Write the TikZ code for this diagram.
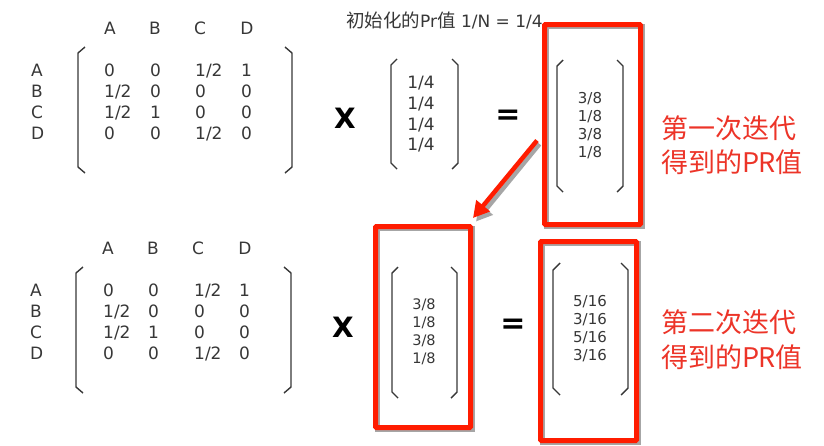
\documentclass[tikz,border=0pt]{standalone}
\usepackage{fontspec}
\setmainfont{DejaVu Sans}
\newfontfamily\cjk{Noto Sans CJK SC}
\usetikzlibrary{arrows.meta}
\definecolor{boxred}{RGB}{255,28,0}
\definecolor{txtred}{RGB}{236,52,40}
\definecolor{ink}{RGB}{55,55,55}
\begin{document}
\begin{tikzpicture}[x=1pt,y=-1pt,
  mtx/.style={anchor=base west,inner sep=0pt,text=ink,font=\fontsize{17}{20}\selectfont},
  hdr/.style={anchor=base,inner sep=0pt,text=ink,font=\fontsize{17}{20}\selectfont},
  vec/.style={anchor=base,inner sep=0pt,text=ink,font=\fontsize{#1}{18}\selectfont},
  vec/.default=15,
  brk/.style={draw=ink,line width=1.4pt},
  op/.style={inner sep=0pt,text=black,font=\fontsize{#1}{30}\selectfont\bfseries},
  redbox/.style={draw=boxred,line width=5pt,rounded corners=1pt,inner sep=0pt,rectangle},
  shbox/.style={draw=gray!70,line width=5pt,inner sep=0pt,rectangle},
  redtxt/.style={anchor=west,inner sep=0pt,text=txtred,font=\cjk\fontsize{27}{32}\selectfont}]
\useasboundingbox (0,0) rectangle (824,445);

% ---------- top left matrix ----------
\foreach \l/\x in {A/110,B/155,C/200,D/247}{
  \node[hdr] (th\l) at (\x,34) {\l};}
\foreach \l/\y in {A/76,B/97,C/118,D/139}{
  \node[mtx] (tr\l) at (31,\y) {\l};}
\foreach \r/\y/\a/\b/\c/\d in {1/76/0/0/1\slash 2/1,2/97/1\slash 2/0/0/0,3/118/1\slash 2/1/0/0,4/139/0/0/1\slash 2/0}{
  \node[mtx] (tm\r a) at (104,\y) {\a};
  \node[mtx] (tm\r b) at (150,\y) {\b};
  \node[mtx] (tm\r c) at (195,\y) {\c};
  \node[mtx] (tm\r d) at (241,\y) {\d};}
\draw[brk] (85,47) -- (78,53) -- (78,167) -- (85,173);
\draw[brk] (285,47) -- (292,53) -- (292,167) -- (285,173);

% ---------- top operators and vectors ----------
\node[op=28] (tx) at (345,118) {X};
\node[op=30] (teq) at (508,117) {=};
\node[anchor=west,inner sep=0pt,text=ink] (init) at (346,20)
  {{\cjk\fontsize{18.5}{20}\selectfont 初始化的}{\fontsize{17}{20}\selectfont Pr}{\cjk\fontsize{18.5}{20}\selectfont 值}\fontsize{17}{20}\selectfont\ 1/N = 1/4};
\foreach \i/\y in {1/88,2/109,3/130,4/150}{
  \node[vec=17] (v0\i) at (421,\y) {1/4};}
\draw[brk] (397,59) -- (391,65) -- (391,163) -- (397,169);
\draw[brk] (452,59) -- (458,65) -- (458,163) -- (452,169);

\node[shbox,minimum width=96pt,minimum height=200pt] (box1s) at (594,126) {};
\node[redbox,minimum width=96pt,minimum height=200pt] (box1) at (592.5,124.5) {};
\foreach \i/\v/\y in {1/3\slash 8/103,2/1\slash 8/121,3/3\slash 8/139,4/1\slash 8/157}{
  \node[vec=15] (v1\i) at (590,\y) {\v};}
\draw[brk] (563,60) -- (557,66) -- (557,186) -- (563,192);
\draw[brk] (617,60) -- (623,66) -- (623,186) -- (617,192);
\node[redtxt] (lab1a) at (661,128) {第一次迭代};
\node[redtxt] (lab1b) at (661,162) {得到的P\kern-0.5pt R值};

% ---------- bottom left matrix ----------
\foreach \l/\x in {A/108,B/153,C/198,D/245}{
  \node[hdr] (bh\l) at (\x,254) {\l};}
\foreach \l/\y in {A/296,B/317,C/338,D/359}{
  \node[mtx] (br\l) at (30,\y) {\l};}
\foreach \r/\y/\a/\b/\c/\d in {1/296/0/0/1\slash 2/1,2/317/1\slash 2/0/0/0,3/338/1\slash 2/1/0/0,4/359/0/0/1\slash 2/0}{
  \node[mtx] (bm\r a) at (103,\y) {\a};
  \node[mtx] (bm\r b) at (148,\y) {\b};
  \node[mtx] (bm\r c) at (194,\y) {\c};
  \node[mtx] (bm\r d) at (239,\y) {\d};}
\draw[brk] (83,267) -- (76,273) -- (76,387) -- (83,393);
\draw[brk] (284,267) -- (291,273) -- (291,387) -- (284,393);

% ---------- bottom operators and vectors ----------
\node[op=28] (bx) at (343,327) {X};
\node[op=30] (beq) at (513,326) {=};

\node[shbox,minimum width=95pt,minimum height=201pt] (box2s) at (424.5,328.5) {};
\node[redbox,minimum width=95pt,minimum height=201pt] (box2) at (423,327) {};
\foreach \i/\v/\y in {1/3\slash 8/309,2/1\slash 8/327,3/3\slash 8/345,4/1\slash 8/363}{
  \node[vec=14.5] (v2\i) at (424,\y) {\v};}
\draw[brk] (398,267) -- (392,273) -- (392,392) -- (398,398);
\draw[brk] (451,267) -- (457,273) -- (457,392) -- (451,398);

\node[shbox,minimum width=96pt,minimum height=199pt] (box3s) at (590,342.5) {};
\node[redbox,minimum width=96pt,minimum height=199pt] (box3) at (588.5,341) {};
\foreach \i/\v/\y in {1/5\slash 16/306,2/3\slash 16/324,3/5\slash 16/342,4/3\slash 16/360}{
  \node[vec=15] (v3\i) at (590,\y) {\v};}
\draw[brk] (560,263) -- (553,270) -- (553,388) -- (560,395);
\draw[brk] (621,263) -- (628,270) -- (628,388) -- (621,395);
\node[redtxt] (lab2a) at (661,322) {第二次迭代};
\node[redtxt] (lab2b) at (661,357) {得到的P\kern-0.5pt R值};

% ---------- arrow ----------
\draw[gray!70,line width=4.5pt,-{Triangle[length=16pt,width=17pt]}]
  ([xshift=-4pt,yshift=-18pt]box1s.west) -- ([xshift=1.5pt,yshift=4pt]box2s.north east);
\draw[boxred,line width=4.5pt,-{Triangle[length=16pt,width=17pt]}]
  ([xshift=-5pt,yshift=-16pt]box1.west) -- ([xshift=0pt,yshift=6pt]box2.north east);
\end{tikzpicture}
\end{document}
